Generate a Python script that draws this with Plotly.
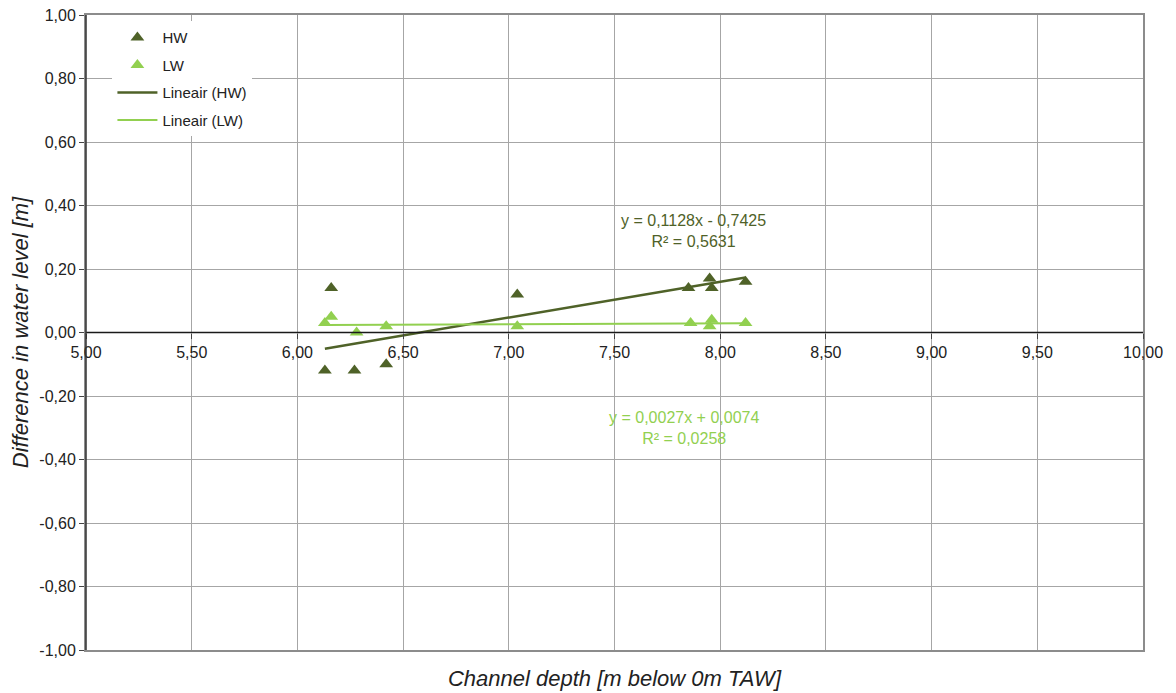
import plotly.graph_objects as go

# Data
hw_x = [6.13, 6.16, 6.27, 6.42, 7.04, 7.85, 7.95, 7.96, 8.12]
hw_y = [-0.12, 0.14, -0.12, -0.10, 0.12, 0.14, 0.17, 0.14, 0.16]
lw_x = [6.13, 6.16, 6.28, 6.42, 7.04, 7.86, 7.95, 7.96, 8.12]
lw_y = [0.03, 0.05, 0.00, 0.02, 0.02, 0.03, 0.02, 0.04, 0.03]

# Trendline coefficients (from chart labels)
hw_slope, hw_intercept, hw_r2 = 0.1128, -0.7425, 0.5631
lw_slope, lw_intercept, lw_r2 = 0.0027, 0.0074, 0.0258

x_ticks = [5.0, 5.5, 6.0, 6.5, 7.0, 7.5, 8.0, 8.5, 9.0, 9.5, 10.0]
y_ticks = [-1.0, -0.8, -0.6, -0.4, -0.2, 0.0, 0.2, 0.4, 0.6, 0.8, 1.0]

HW_COLOR = "#4F6228"
LW_COLOR = "#92D050"
FONT = "Liberation Sans, Arial, sans-serif"


def lbl(v):
    return f"{v:.2f}".replace(".", ",")


def trend(xs, m, b):
    x0, x1 = min(xs), max(xs)
    return [x0, x1], [m * x0 + b, m * x1 + b]


def fmt(v):
    return f"{abs(v):.4f}".replace(".", ",")


fig = go.Figure()
fig.add_trace(go.Scatter(x=hw_x, y=hw_y, mode="markers", name="HW", legendgroup="a",
                         marker=dict(symbol="triangle-up", size=12, color=HW_COLOR)))
fig.add_trace(go.Scatter(x=lw_x, y=lw_y, mode="markers", name="LW", legendgroup="b",
                         marker=dict(symbol="triangle-up", size=12, color=LW_COLOR)))
tx, ty = trend(hw_x, hw_slope, hw_intercept)
fig.add_trace(go.Scatter(x=tx, y=ty, mode="lines", name="Lineair (HW)", legendgroup="c",
                         line=dict(color=HW_COLOR, width=2.5)))
tx, ty = trend(lw_x, lw_slope, lw_intercept)
fig.add_trace(go.Scatter(x=tx, y=ty, mode="lines", name="Lineair (LW)", legendgroup="d",
                         line=dict(color=LW_COLOR, width=2)))

# zero line trace on xaxis2 carrying tick labels along y=0
fig.add_trace(go.Scatter(x=[5, 10], y=[0, 0], xaxis="x2", mode="lines",
                         line=dict(color="#1a1a1a", width=1.5), showlegend=False,
                         hoverinfo="skip"))

fig.add_annotation(x=7.876, y=0.385, xref="x", yref="y",
                   text=f"y = {fmt(hw_slope)}x - {fmt(hw_intercept)}<br>R² = {fmt(hw_r2)}",
                   showarrow=False, font=dict(family=FONT, size=16, color=HW_COLOR),
                   xanchor="center", yanchor="top", align="center")
fig.add_annotation(x=7.83, y=-0.235, xref="x", yref="y",
                   text=f"y = {fmt(lw_slope)}x + {fmt(lw_intercept)}<br>R² = {fmt(lw_r2)}",
                   showarrow=False, font=dict(family=FONT, size=16, color=LW_COLOR),
                   xanchor="center", yanchor="top", align="center")

fig.update_layout(
    width=1176, height=693,
    margin=dict(l=78, r=41, t=7, b=51),
    paper_bgcolor="white", plot_bgcolor="white",
    font=dict(family=FONT, size=15, color="#222"),
    xaxis=dict(range=[5, 10], tickvals=x_ticks, showticklabels=False, automargin=False,
               showgrid=True, gridcolor="#A6A6A6", gridwidth=1,
               showline=True, linecolor="#8C8C8C", linewidth=2, mirror=True,
               zeroline=False, ticks="",
               title=dict(text="<i>Channel depth [m below 0m TAW]</i>",
                          font=dict(family=FONT, size=22, color="#222"), standoff=20)),
    xaxis2=dict(range=[5, 10], tickvals=x_ticks, ticktext=[lbl(v) for v in x_ticks],
                overlaying="x", anchor="free", position=0.5, side="bottom", automargin=False,
                showgrid=False, showline=False, zeroline=False, ticklabeloverflow="allow",
                ticks="outside", ticklen=5, tickcolor="#444",
                tickfont=dict(family=FONT, size=16, color="#222")),
    yaxis=dict(range=[-1, 1], tickvals=y_ticks, ticktext=[lbl(v) for v in y_ticks],
               automargin=False, ticklabeloverflow="allow",
               showgrid=True, gridcolor="#A6A6A6", gridwidth=1,
               showline=True, linecolor="#8C8C8C", linewidth=2, mirror=True,
               zeroline=False, ticks="outside", ticklen=5, tickcolor="#444",
               tickfont=dict(family=FONT, size=16, color="#222"),
               title=dict(text="<i>Difference in water level [m]</i>",
                          font=dict(family=FONT, size=22, color="#222"), standoff=7)),
    legend=dict(x=0.025, y=0.99, xanchor="left", yanchor="top",
                bgcolor="white", font=dict(family=FONT, size=15, color="#222"),
                tracegroupgap=5, itemwidth=40),
)

# dark y axis line on left
fig.add_shape(type="line", xref="paper", yref="paper", x0=0, x1=0, y0=0, y1=1,
              line=dict(color="#333", width=1.5))

fig.write_html("out.html")
